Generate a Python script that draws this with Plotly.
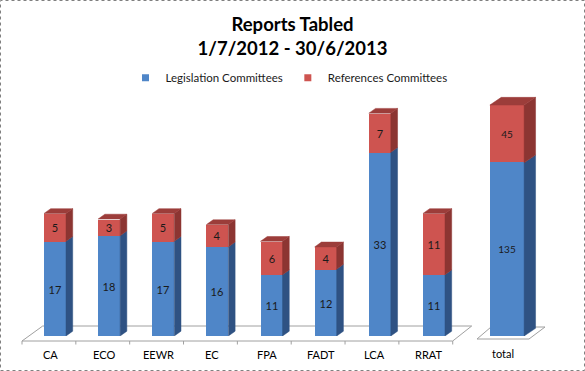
import plotly.graph_objects as go

# ---------------- data ----------------
categories = ["CA", "ECO", "EEWR", "EC", "FPA", "FADT", "LCA", "RRAT"]
legislation = [17, 18, 17, 16, 11, 12, 33, 11]
references = [5, 3, 5, 4, 6, 4, 7, 11]
total_categories = ["total"]
total_legislation = [135]
total_references = [45]
series_names = ["Legislation Committees", "References Committees"]
title_lines = ["Reports Tabled", "1/7/2012 - 30/6/2013"]

# ---------------- style ----------------
W, H = 585, 371
FONT = "Lato"
BLUE, RED = "#4F86C8", "#CE5450"
BLUE_SIDE, RED_SIDE = "#2F5283", "#8C3532"
RED_TOP = "#9C3D3A"
TXT = "#1a1a1a"
GRID = "#A0A0A0"


def fx(px):
    return px / W


def fy(py):
    return (H - py) / H


# geometry (pixels)
L_CX0, L_PPX, L_Y0, L_PPY = 55.0, 54.14, 336.0, 5.57
R_CX0, R_PPX, R_PPY = 507.0, 54.0, 1.283
L_XR, L_YR = [-0.5, 7.5], [0, 50]
R_XR, R_YR = [-0.6, 0.6], [0, 200]
L_W, R_W = 22.0 / L_PPX, 34.3 / R_PPX
L_DX, L_DY = 6.7 / L_PPX, 4.8 / L_PPY
R_DX, R_DY = 11.4 / R_PPX, 7.7 / R_PPY

fig = go.Figure()


def side_poly(xc, y0, y1, w, dx, dy):
    xr = xc + w / 2
    return [xr, xr, xr + dx, xr + dx, xr, None], [y0, y1, y1 + dy, y0 + dy, y0, None]


def top_poly(xc, yt, w, dx, dy):
    xl, xr = xc - w / 2, xc + w / 2
    return [xl, xl + dx, xr + dx, xr, xl, None], [yt, yt + dy, yt + dy, yt, yt, None]


def add_group(xs, lo, hi, w, dx, dy, xa, ya, size):
    # front faces
    fig.add_trace(go.Bar(x=xs, y=lo, width=w, marker=dict(color=BLUE, line=dict(width=0)),
                         text=[str(v) for v in lo], textposition="inside", insidetextanchor="middle",
                         constraintext="none", textangle=0,
                         textfont=dict(size=size, color=TXT, family=FONT),
                         showlegend=False, hoverinfo="skip", xaxis=xa, yaxis=ya))
    fig.add_trace(go.Bar(x=xs, y=hi, width=w, marker=dict(color=RED, line=dict(width=0)),
                         text=[str(v) for v in hi], textposition="inside", insidetextanchor="middle",
                         constraintext="none", textangle=0,
                         textfont=dict(size=size, color=TXT, family=FONT),
                         showlegend=False, hoverinfo="skip", xaxis=xa, yaxis=ya))
    # side and top faces
    bx, by, rx, ry, tx, ty = [], [], [], [], [], []
    for x, a, b in zip(xs, lo, hi):
        px, py = side_poly(x, 0, a, w, dx, dy)
        bx += px; by += py
        px, py = side_poly(x, a, a + b, w, dx, dy)
        rx += px; ry += py
        px, py = top_poly(x, a + b, w, dx, dy)
        tx += px; ty += py
    for X, Y, c in [(bx, by, BLUE_SIDE), (rx, ry, RED_SIDE), (tx, ty, RED_TOP)]:
        fig.add_trace(go.Scatter(x=X, y=Y, mode="lines", fill="toself", fillcolor=c,
                                 line=dict(color=c, width=0.5), hoverinfo="skip",
                                 showlegend=False, cliponaxis=False, xaxis=xa, yaxis=ya))


add_group(list(range(len(categories))), legislation, references, L_W, L_DX, L_DY, "x", "y", 11)
add_group([0], total_legislation, total_references, R_W, R_DX, R_DY, "x2", "y2", 10)

# legend entries
for name, c in zip(series_names, [BLUE, RED]):
    fig.add_trace(go.Scatter(x=[None], y=[None], mode="markers", name=name,
                             marker=dict(symbol="square", size=7, color=c),
                             xaxis="x", yaxis="y"))

# category labels
annotations = []
for i, c in enumerate(categories):
    annotations.append(dict(x=i, y=0, xref="x", yref="y", text=c, showarrow=False,
                            xshift=-5, yshift=-18, yanchor="middle",
                            font=dict(size=11, color="#000000", family=FONT)))
for i, c in enumerate(total_categories):
    annotations.append(dict(x=i, y=0, xref="x2", yref="y2", text=c, showarrow=False,
                            xshift=-4, yshift=-17, yanchor="middle",
                            font=dict(size=11, color="#000000", family=FONT)))

shapes = []
# outer dotted border
shapes.append(dict(type="rect", xref="paper", yref="paper", x0=fx(0.5), x1=fx(W - 0.5),
                   y0=fy(H - 0.5), y1=fy(0.5), line=dict(color="#808080", width=1, dash="dot")))


def floor(fl, fr, fyp, bl, br, byp):
    return dict(type="path", xref="paper", yref="paper", layer="below",
                path=f"M{fx(fl)},{fy(fyp)} L{fx(fr)},{fy(fyp)} L{fx(br)},{fy(byp)} "
                     f"L{fx(bl)},{fy(byp)} Z",
                line=dict(color=GRID, width=1), fillcolor="rgba(0,0,0,0)")


shapes.append(floor(22, 452.7, 341, 42.7, 471.7, 326))
shapes.append(floor(477, 529, 339, 491, 545, 327))
for k in range(len(categories) + 1):
    xp = 22 + 53.84 * k
    shapes.append(dict(type="line", xref="paper", yref="paper", x0=fx(xp), x1=fx(xp),
                       y0=fy(341), y1=fy(344.5), line=dict(color=GRID, width=1)))

fig.update_layout(
    width=W, height=H, autosize=False,
    margin=dict(l=0, r=0, t=0, b=0),
    paper_bgcolor="white", plot_bgcolor="rgba(0,0,0,0)",
    barmode="stack", bargap=0,
    font=dict(family=FONT, color="#000000"),
    title=dict(text="<b>" + "<br>".join(title_lines) + "</b>", x=0.5, xanchor="center",
               y=fy(31), yanchor="middle", yref="container",
               font=dict(size=18.5, family=FONT, color="#000000")),
    showlegend=True,
    legend=dict(orientation="h", traceorder="normal", x=fx(289), xanchor="center",
                y=fy(77.7), yanchor="middle",
                font=dict(size=11.5, family=FONT, color="#1a1a1a"), itemwidth=30,
                bgcolor="rgba(0,0,0,0)"),
    xaxis=dict(domain=[fx(L_CX0 + L_XR[0] * L_PPX), fx(L_CX0 + L_XR[1] * L_PPX)], range=L_XR,
               visible=False, anchor="y"),
    yaxis=dict(domain=[fy(L_Y0), fy(L_Y0 - L_YR[1] * L_PPY)], range=L_YR, visible=False,
               anchor="x"),
    xaxis2=dict(domain=[fx(R_CX0 + R_XR[0] * R_PPX), fx(R_CX0 + R_XR[1] * R_PPX)], range=R_XR,
                visible=False, anchor="y2"),
    yaxis2=dict(domain=[fy(L_Y0), fy(L_Y0 - R_YR[1] * R_PPY)], range=R_YR, visible=False,
                anchor="x2"),
    annotations=annotations,
    shapes=shapes,
)

fig.write_html("out.html", config={"displayModeBar": False},
               post_script="document.body.style.margin='0px';"
                           "document.body.style.overflow='hidden';")
